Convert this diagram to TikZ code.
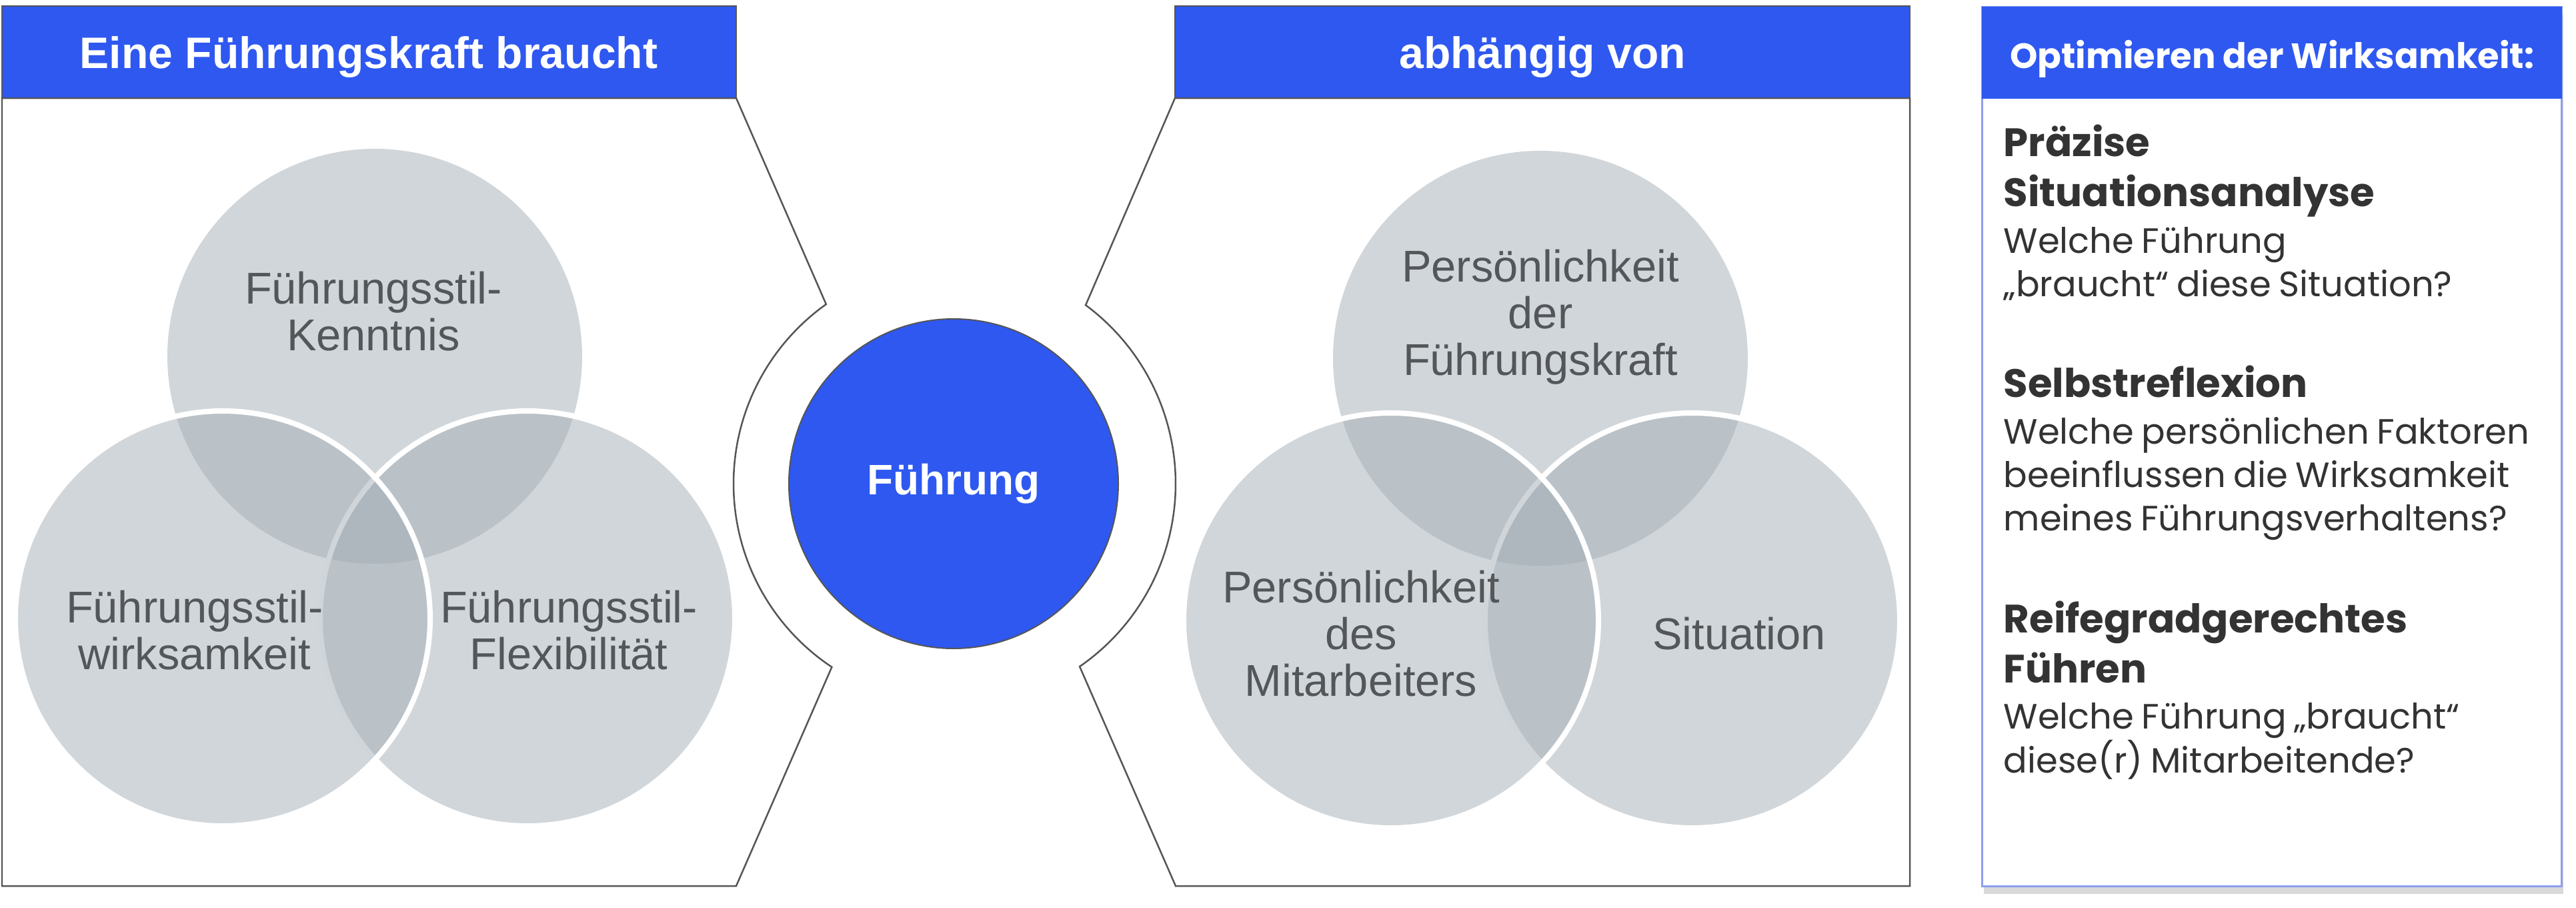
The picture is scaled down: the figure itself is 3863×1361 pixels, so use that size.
\documentclass[tikz,border=0pt]{standalone}
\usepackage{fontspec}
\setmainfont{Liberation Sans}
\newfontfamily\boxfont{Poppins}
\usetikzlibrary{positioning,calc,shadows}
\definecolor{hdrblue}{RGB}{46,88,240}
\definecolor{panelgray}{RGB}{85,85,85}
\definecolor{venngray}{RGB}{163,173,181}
\definecolor{labelgray}{RGB}{83,87,90}
\definecolor{boxblue}{RGB}{140,158,238}
\definecolor{darktext}{RGB}{51,51,51}
\newcommand{\optHead}{\boxfont\bfseries\fontsize{16.9}{21.3}\selectfont}
\newcommand{\optBody}{\boxfont\fontsize{15}{18.5}\selectfont}

\begin{document}
\begin{tikzpicture}[x=0.1mm,y=-0.1mm]
\tikzset{
  hdr/.style={fill=hdrblue,draw=panelgray,line width=0.2mm},
  hdrtext/.style={anchor=base,text=white,font=\fontsize{18.8}{22}\selectfont\bfseries},
  panel/.style={draw=panelgray,line width=0.25mm},
  venn/.style={circle,minimum size=62.2mm,inner sep=0pt,fill=venngray,fill opacity=0.5},
  vennrim/.style={venn,draw=white,draw opacity=1,line width=0.8mm},
  vtext/.style={align=center,text=labelgray,font=\fontsize{19}{19.9}\selectfont},
  opt/.style={text width=82mm,align=left,inner sep=0pt,text=darktext},
}
\useasboundingbox (0,0) rectangle (3863,1361);

% centre
\node[circle,minimum size=49.4mm,inner sep=0pt,fill=hdrblue,draw=panelgray,line width=0.2mm,
  text=white,font=\fontsize{18.2}{20}\selectfont\bfseries] (fu) at (1430,725) {Führung};

% left panel
\draw[panel] (3,147) -- (1104,147) -- ($(fu)+(125.4:33mm)$)
  arc[start angle=125.4,end angle=236.4,radius=33mm] -- (1104,1328) -- (3,1328) -- cycle;
\draw[hdr] (3,9) rectangle (1104,147);
\node[hdrtext] (h1) at (553,102) {Eine Führungskraft braucht};

\node[venn] (k) at (562,534) {};
\node[vennrim] (f) at (791,927) {};
\node[vennrim] (w) at (334,927) {};
\node[vtext] (kt) at (560,467) {Führungsstil-\\Kenntnis};
\node[vtext] (wt) at (292,945) {Führungsstil-\\wirksamkeit};
\node[vtext] (ft) at (853,945) {Führungsstil-\\Flexibilität};

% right panel
\draw[panel] (1762,147) -- (2864,147) -- (2864,1328) -- (1763,1328) -- ($(fu)+(-55.4:33.3mm)$)
  arc[start angle=-55.4,end angle=53.5,radius=33.3mm] -- cycle;
\draw[hdr] (1762,9) rectangle (2864,147);
\node[hdrtext] (h2) at (2313,102) {abhängig von};

\node[venn] (pf) at (2310,537) {};
\node[vennrim] (si) at (2538,930) {};
\node[vennrim] (pm) at (2086,930) {};
\node[vtext] (pft) at (2310,475) {Persönlichkeit\\der\\Führungskraft};
\node[vtext] (pmt) at (2041,950) {Persönlichkeit\\des\\Mitarbeiters};
\node[vtext] (sit) at (2608,950) {Situation};

% box on the right
\draw[draw=boxblue,line width=0.3mm,fill=white,
  drop shadow={shadow xshift=0.3mm,shadow yshift=-1.2mm,opacity=0.3}] (2972,10) rectangle (3841,1328);
\fill[hdrblue] (2972,10) rectangle (3842,148);
\node[anchor=base,text=white,font=\boxfont\bfseries\fontsize{15}{18}\selectfont] (oh) at (3407,102)
  {Optimieren der Wirksamkeit:};

\node[opt,anchor=north west] (opt1) at (3004,186)
  {{\optHead Präzise\\Situationsanalyse\par}\vspace{1.4pt}\optBody Welche Führung\\„braucht“ diese Situation?\par};
\node[opt,below=9.7mm of opt1] (opt2)
  {{\optHead Selbstreflexion\par}\vspace{1.4pt}\optBody Welche persönlichen Faktoren\\beeinflussen die Wirksamkeit\\meines Führungsverhaltens?\par};
\node[opt,below=8.9mm of opt2] (opt3)
  {{\optHead Reifegradgerechtes\\Führen\par}\vspace{1.4pt}\optBody Welche Führung „braucht“\\diese(r) Mitarbeitende?\par};
\end{tikzpicture}
\end{document}
